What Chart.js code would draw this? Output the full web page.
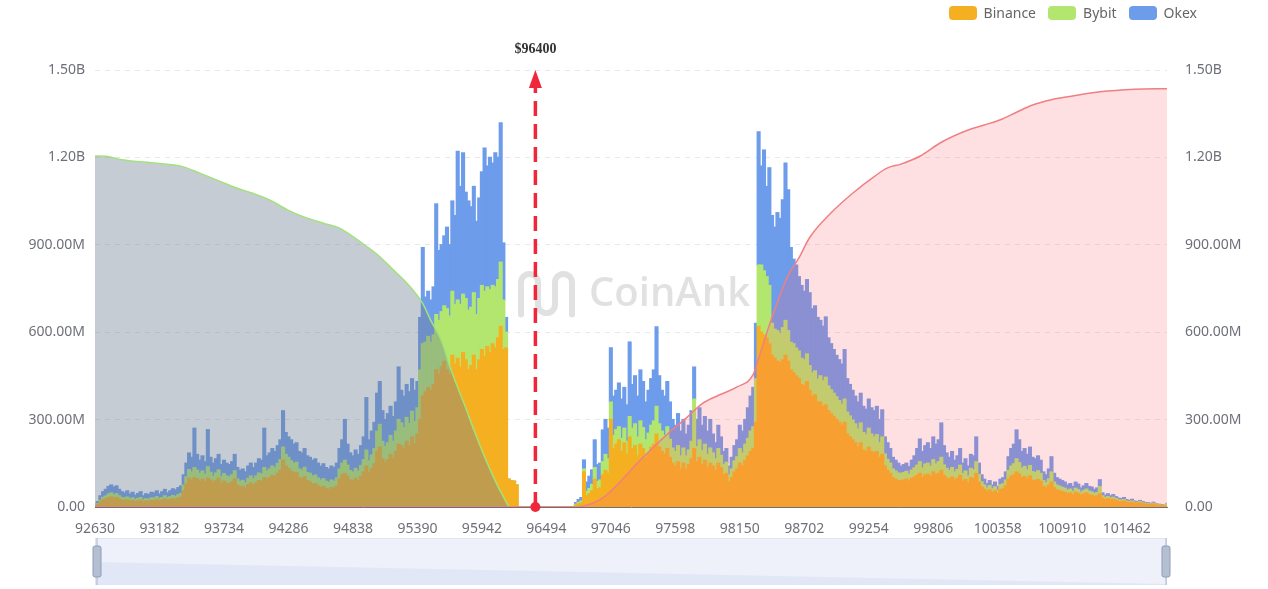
<!DOCTYPE html>
<html lang="en">
<head>
    <meta charset="UTF-8">
    <title>BTC Liquidation Map</title>
    <script src="https://cdn.jsdelivr.net/npm/chart.js"></script>
    <style>
        body {
            margin: 0;
            background: #fff;
        }
        #wrap {
            position: relative;
            width: 1268px;
            height: 589px;
        }
        #legend {
            position: absolute;
            top: 3px;
            right: 71px;
            line-height: 20px;
            font: 14px "Noto Sans", sans-serif;
            color: #666;
        }
        #legend .item {
            display: inline-flex;
            align-items: center;
            margin-left: 12px;
        }
        #legend .item i {
            display: inline-block;
            width: 28px;
            height: 14px;
            border-radius: 4px;
            margin-right: 7px;
        }
    </style>
</head>
<body>
<div id="wrap">
    <canvas id="liqChart"></canvas>
    <div id="legend"></div>
</div>

<script>
    // price grid: 92630 -> 101807, step 23 (400 price levels)
    const priceStart = 92630;
    const priceStep = 23;
    const priceCount = 400;
    const currentPrice = 96400;
    const tickEvery = 24; // one label every 552

    const exchanges = ['Binance', 'Bybit', 'Okex'];
    const colors = ['#f5b022', '#b3e66e', '#6d9ceb'];

    // liquidation intensity per price level, in millions
    const binance = [
        2, 8, 17, 24, 27, 32, 34, 30, 32, 27,
        23, 22, 24, 20, 22, 18, 21, 23, 17, 20,
        19, 22, 21, 25, 20, 23, 27, 22, 25, 28,
        26, 30, 33, 55, 78, 98, 92, 100, 96, 88,
        95, 86, 98, 92, 82, 90, 98, 80, 88, 82,
        80, 85, 96, 74, 68, 70, 64, 76, 82, 74,
        82, 90, 88, 100, 95, 100, 108, 104, 115, 125,
        160, 140, 132, 122, 115, 118, 100, 96, 104, 90,
        85, 78, 80, 72, 66, 70, 63, 60, 66, 63,
        72, 95, 110, 115, 105, 92, 88, 98, 90, 105,
        120, 140, 118, 132, 148, 190, 205, 165, 152, 162,
        180, 165, 190, 215, 210, 200, 225, 210, 240, 215,
        250, 300, 380, 395, 410, 400, 420, 470, 455, 480,
        500, 470, 455, 520, 490, 510, 480, 530, 505, 470,
        485, 520, 470, 505, 540, 515, 550, 530, 560, 545,
        580, 620, 540, 545, 95, 90, 88, 75,
        0, 0, 0, 0, 0, 0, 0, 0, 0, 0, 0, 0, 0, 0, 0, 0, 0, 0, 0, 0, 0,
        6, 10, 14, 120, 38, 45, 55, 95, 62, 65, 110,
        125, 115, 300, 200, 215, 230, 190, 220, 180, 240,
        200, 210, 175, 215, 200, 170, 185, 205, 215, 250,
        205, 190, 180, 200, 170, 150, 140, 155, 130, 150,
        130, 145, 165, 200, 155, 170, 145, 160, 135, 150,
        140, 125, 150, 135, 110, 115, 85, 100, 120, 130,
        150, 140, 160, 175, 190, 200, 290, 620, 600, 590,
        580, 560, 520, 510, 500, 495, 505, 520, 500, 470,
        460, 450, 440, 420, 415, 430, 400, 380, 385, 360,
        360, 345, 350, 330, 320, 310, 300, 290, 280, 290,
        250, 240, 230, 220, 205, 220, 195, 190, 205, 190,
        185, 190, 170, 180, 140, 125, 115, 100, 95, 90,
        90, 92, 95, 88, 98, 102, 108, 115, 100, 110,
        112, 105, 120, 110, 115, 125, 108, 100, 95, 102,
        92, 98, 108, 88, 94, 82, 100, 97, 115, 85,
        68, 60, 52, 58, 50, 55, 46, 60, 62, 72,
        95, 105, 110, 120, 112, 100, 104, 96, 106, 92,
        90, 94, 88, 70, 65, 74, 85, 66, 58, 55,
        52, 50, 45, 48, 42, 50, 46, 40, 44, 48,
        42, 40, 36, 38, 45, 30, 25, 28, 24, 26,
        22, 19, 18, 20, 16, 14, 16, 13, 12, 14,
        11, 9, 9, 8, 10, 6, 6, 5, 4, 3
    ];
    const bybit = [
        1, 3, 6, 9, 10, 12, 14, 12, 13, 11,
        9, 8, 10, 8, 9, 7, 8, 9, 7, 8,
        7, 9, 9, 10, 8, 9, 11, 9, 10, 11,
        10, 12, 13, 20, 25, 30, 28, 35, 30, 27,
        28, 25, 40, 27, 24, 26, 29, 23, 26, 24,
        23, 25, 28, 22, 20, 21, 19, 22, 24, 22,
        24, 26, 25, 35, 28, 30, 32, 30, 34, 37,
        45, 40, 38, 36, 34, 35, 30, 30, 32, 28,
        30, 28, 29, 27, 26, 27, 25, 24, 26, 25,
        27, 35, 40, 45, 38, 33, 31, 34, 32, 37,
        42, 55, 40, 46, 52, 70, 78, 60, 55, 58,
        65, 60, 70, 85, 78, 72, 82, 76, 88, 78,
        90, 170, 180, 170, 175, 165, 170, 190, 185, 190,
        190, 210, 200, 220, 205, 200, 215, 200, 210, 205,
        200, 215, 190, 210, 220, 225, 205, 215, 200, 210,
        200, 220, 170, 55, 0, 0, 0, 0,
        0, 0, 0, 0, 0, 0, 0, 0, 0, 0, 0, 0, 0, 0, 0, 0, 0, 0, 0, 0, 0,
        3, 5, 6, 10, 15, 18, 22, 40, 25, 27, 45,
        55, 50, 60, 45, 50, 45, 45, 50, 45, 70,
        70, 75, 65, 80, 72, 60, 68, 75, 80, 95,
        80, 70, 65, 75, 62, 52, 50, 55, 45, 52,
        45, 50, 60, 170, 52, 60, 48, 55, 45, 52,
        45, 40, 50, 42, 35, 38, 25, 30, 38, 42,
        50, 45, 55, 60, 70, 75, 150, 210, 230, 220,
        210, 200, 110, 100, 105, 100, 110, 120, 105, 95,
        100, 95, 95, 90, 90, 95, 85, 80, 82, 78,
        90, 88, 95, 85, 82, 80, 78, 75, 72, 80,
        75, 72, 68, 65, 62, 68, 60, 58, 65, 60,
        55, 58, 50, 60, 42, 38, 35, 30, 28, 26,
        25, 26, 27, 24, 28, 32, 35, 40, 33, 37,
        38, 35, 42, 37, 40, 45, 36, 32, 30, 33,
        28, 30, 35, 26, 29, 24, 32, 30, 40, 26,
        18, 15, 13, 15, 12, 14, 11, 16, 17, 20,
        30, 35, 38, 45, 40, 33, 35, 31, 36, 29,
        28, 30, 27, 20, 18, 22, 35, 19, 17, 16,
        15, 14, 12, 13, 11, 14, 13, 10, 12, 13,
        12, 11, 10, 11, 25, 8, 7, 7, 6, 7,
        6, 5, 5, 5, 4, 4, 4, 3, 3, 4,
        3, 3, 2, 2, 3, 2, 1, 1, 1, 8
    ];
    const okex = [
        1, 7, 15, 19, 23, 26, 27, 26, 27, 22,
        20, 18, 21, 16, 19, 15, 17, 20, 14, 17,
        16, 19, 18, 20, 16, 20, 22, 17, 20, 23,
        22, 24, 26, 35, 47, 57, 50, 135, 54, 45,
        52, 44, 127, 51, 44, 49, 53, 42, 46, 44,
        42, 45, 56, 39, 37, 39, 37, 42, 44, 39,
        44, 49, 47, 135, 52, 55, 60, 56, 61, 68,
        125, 75, 70, 72, 66, 67, 60, 59, 64, 57,
        55, 54, 56, 51, 48, 51, 47, 46, 48, 47,
        51, 70, 80, 140, 72, 60, 56, 63, 58, 68,
        78, 180, 72, 82, 90, 130, 147, 105, 93, 100,
        100, 85, 100, 180, 112, 108, 113, 109, 112, 107,
        90, 180, 330, 155, 155, 145, 165, 380, 240, 230,
        240, 280, 245, 310, 305, 510, 405, 485, 365, 375,
        345, 365, 320, 345, 390, 492, 415, 455, 420, 460,
        420, 478, 196, 50, 0, 0, 0, 0,
        0, 0, 0, 0, 0, 0, 0, 0, 0, 0, 0, 0, 0, 0, 0, 0, 0, 0, 0, 0, 0,
        6, 10, 12, 31, 32, 42, 50, 95, 58, 58, 109,
        120, 105, 186, 135, 135, 150, 135, 140, 125, 256,
        150, 165, 140, 175, 158, 130, 147, 160, 175, 273,
        165, 140, 135, 155, 128, 98, 90, 110, 85, 98,
        75, 85, 105, 110, 93, 110, 87, 95, 80, 98,
        65, 55, 80, 63, 45, 47, 30, 40, 52, 58,
        80, 75, 85, 105, 120, 135, 190, 457, 340, 415,
        310, 404, 370, 350, 405, 395, 439, 540, 483, 325,
        290, 285, 255, 250, 235, 255, 250, 220, 223, 212,
        190, 187, 207, 165, 158, 150, 142, 140, 138, 170,
        115, 108, 102, 95, 93, 102, 90, 87, 100, 90,
        90, 97, 80, 93, 58, 57, 50, 40, 37, 34,
        25, 27, 28, 26, 34, 41, 57, 78, 57, 63,
        70, 60, 78, 68, 75, 118, 66, 53, 45, 55,
        40, 47, 57, 36, 42, 34, 48, 48, 85, 39,
        24, 20, 15, 17, 13, 16, 13, 19, 21, 28,
        47, 60, 67, 99, 78, 57, 61, 53, 63, 49,
        47, 51, 45, 30, 27, 34, 52, 30, 25, 24,
        23, 21, 18, 19, 17, 21, 19, 15, 16, 19,
        16, 17, 14, 16, 23, 10, 8, 10, 8, 9,
        7, 6, 5, 7, 5, 4, 6, 4, 3, 4,
        4, 3, 3, 2, 3, 2, 2, 2, 1, 1
    ];

    // cumulative long liquidations (below current price), millions
    const longCumPrices = [92630, 92722, 92860, 93159, 93366, 93527, 93711, 93849, 93987, 94125,
        94286, 94424, 94585, 94723, 94838, 94953, 95068, 95183, 95298, 95436,
        95505, 95597, 95666, 95735, 95804, 95873, 95942, 96011, 96080, 96126, 96172];
    const longCumValues = [1205, 1204, 1192, 1180, 1170, 1146, 1116, 1094, 1076, 1054,
        1018, 995, 974, 957, 928, 895, 859, 814, 769, 698,
        640, 570, 485, 410, 340, 265, 195, 130, 70, 35, 0];

    // cumulative short liquidations (above current price), millions
    const shortCumPrices = [92630, 96747, 96793, 96885, 96977, 97115, 97276, 97414, 97552, 97690,
        97828, 97989, 98127, 98265, 98311, 98403, 98564, 98656, 98748, 98932,
        99116, 99300, 99415, 99530, 99691, 99875, 100105, 100243, 100381, 100519,
        100657, 100818, 100956, 101232, 101531, 101807];
    const shortCumValues = [0, 0, 2, 12, 31, 82, 152, 207, 258, 305,
        355, 387, 412, 455, 510, 625, 795, 855, 925, 1010,
        1077, 1134, 1164, 1177, 1204, 1252, 1294, 1311, 1329, 1355,
        1380, 1398, 1408, 1425, 1434, 1436];

    const prices = [];
    for (let i = 0; i < priceCount; i++) prices.push(priceStart + i * priceStep);

    // y tick labels: 0.00, 300.00M ... 1.50B
    function fmtAmount(v) {
        if (v === 0) return '0.00';
        if (v >= 1000) return (v / 1000).toFixed(2) + 'B';
        return v.toFixed(2) + 'M';
    }

    // html legend
    const legendEl = document.getElementById('legend');
    exchanges.forEach((name, i) => {
        const item = document.createElement('span');
        item.className = 'item';
        item.innerHTML = '<i style="background:' + colors[i] + '"></i>' + name;
        legendEl.appendChild(item);
    });

    // CoinAnk watermark behind the bars
    const watermark = {
        id: 'watermark',
        beforeDatasetsDraw(chart) {
            const { ctx, chartArea: a } = chart;
            const cx = (a.left + a.right) / 2;
            const cy = (a.top + a.bottom) / 2 + 4;
            ctx.save();
            ctx.strokeStyle = 'rgba(205,205,205,0.6)';
            ctx.fillStyle = 'rgba(205,205,205,0.6)';
            ctx.lineWidth = 6;
            ctx.lineCap = 'round';
            const x0 = cx - 110;
            ctx.beginPath();
            ctx.moveTo(x0, cy + 22);
            ctx.lineTo(x0, cy - 10);
            ctx.arc(x0 + 8.5, cy - 10, 8.5, Math.PI, 2 * Math.PI);
            ctx.lineTo(x0 + 17, cy + 12);
            ctx.arc(x0 + 25.5, cy + 12, 8.5, Math.PI, 0, true);
            ctx.lineTo(x0 + 34, cy - 10);
            ctx.arc(x0 + 42.5, cy - 10, 8.5, Math.PI, 2 * Math.PI);
            ctx.lineTo(x0 + 51, cy + 22);
            ctx.stroke();
            ctx.font = '600 40px "Open Sans", sans-serif';
            ctx.textBaseline = 'middle';
            ctx.fillText('CoinAnk', cx - 42, cy + 2);
            ctx.restore();
        }
    };

    // current price marker
    const priceMarker = {
        id: 'priceMarker',
        afterDatasetsDraw(chart) {
            const { ctx, scales: { x, y } } = chart;
            const px = x.getPixelForValue((currentPrice - priceStart) / priceStep);
            const top = y.getPixelForValue(1500);
            const bottom = y.getPixelForValue(0);
            ctx.save();
            ctx.strokeStyle = '#f0273a';
            ctx.fillStyle = '#f0273a';
            ctx.lineWidth = 3.5;
            ctx.setLineDash([15, 8]);
            ctx.beginPath();
            ctx.moveTo(px, bottom);
            ctx.lineTo(px, top + 14);
            ctx.stroke();
            ctx.setLineDash([]);
            ctx.beginPath();
            ctx.moveTo(px, top);
            ctx.lineTo(px - 6.5, top + 18);
            ctx.lineTo(px + 6.5, top + 18);
            ctx.closePath();
            ctx.fill();
            ctx.beginPath();
            ctx.arc(px, bottom, 5, 0, Math.PI * 2);
            ctx.fill();
            ctx.font = 'bold 14px "Liberation Serif", serif';
            ctx.fillStyle = '#333';
            ctx.textAlign = 'center';
            ctx.textBaseline = 'middle';
            ctx.fillText('$' + currentPrice, px, top - 21);
            ctx.restore();
        }
    };

    // data zoom slider under the axis (decorative)
    const slider = {
        id: 'slider',
        afterDraw(chart) {
            const { ctx, chartArea: a } = chart;
            const top = chart.height - 51;
            const bottom = chart.height - 4;
            ctx.save();
            ctx.fillStyle = '#eef1fa';
            ctx.fillRect(a.left, top, a.right - a.left, bottom - top);
            ctx.fillStyle = '#e2e7f7';
            ctx.beginPath();
            ctx.moveTo(a.left, top + 24);
            ctx.lineTo(a.right, bottom - 1);
            ctx.lineTo(a.right, bottom);
            ctx.lineTo(a.left, bottom);
            ctx.closePath();
            ctx.fill();
            ctx.strokeStyle = '#dfe5f3';
            ctx.lineWidth = 1;
            ctx.strokeRect(a.left + 0.5, top + 0.5, a.right - a.left - 1, bottom - top - 1);
            [a.left + 2, a.right - 1].forEach(hx => {
                ctx.strokeStyle = '#aab6cc';
                ctx.beginPath();
                ctx.moveTo(hx, top);
                ctx.lineTo(hx, bottom);
                ctx.stroke();
                ctx.fillStyle = '#b4bfd2';
                ctx.strokeStyle = '#8e9db8';
                ctx.beginPath();
                ctx.roundRect(hx - 4, top + 8, 8, 31, 2);
                ctx.fill();
                ctx.stroke();
            });
            ctx.restore();
        }
    };

    const barSets = [binance, bybit, okex].map((d, i) => ({
        label: exchanges[i],
        data: d,
        backgroundColor: colors[i],
        borderWidth: 0,
        barPercentage: 1,
        categoryPercentage: 1,
        inflateAmount: 0.7,
        yAxisID: 'y',
        order: 2
    }));

    const ctx = document.getElementById('liqChart').getContext('2d');
    const chart = new Chart(ctx, {
        type: 'bar',
        data: {
            labels: prices,
            datasets: [
                ...barSets,
                {
                    type: 'line',
                    label: 'Long cumulative',
                    data: longCumPrices.map((p, i) => ({ x: p, y: longCumValues[i] })),
                    borderColor: '#a3e27a',
                    borderWidth: 1.5,
                    backgroundColor: 'rgba(112,128,144,0.4)',
                    fill: 'origin',
                    pointRadius: 0,
                    cubicInterpolationMode: 'monotone',
                    yAxisID: 'y1',
                    order: 1
                },
                {
                    type: 'line',
                    label: 'Short cumulative',
                    data: shortCumPrices.map((p, i) => ({ x: p, y: shortCumValues[i] })),
                    borderColor: '#f07f82',
                    borderWidth: 1.5,
                    backgroundColor: 'rgba(255,99,110,0.2)',
                    fill: 'origin',
                    pointRadius: 0,
                    cubicInterpolationMode: 'monotone',
                    yAxisID: 'y1',
                    order: 0
                }
            ]
        },
        options: {
            responsive: true,
            maintainAspectRatio: false,
            animation: false,
            layout: { padding: { top: 70, left: 0, right: 0, bottom: 0 } },
            plugins: {
                legend: { display: false },
                tooltip: { enabled: false }
            },
            scales: {
                x: {
                    stacked: true,
                    offset: false,
                    grid: { display: false },
                    border: { color: '#6e7079' },
                    ticks: {
                        autoSkip: false,
                        maxRotation: 0,
                        padding: 6,
                        color: '#6e7079',
                        font: { family: 'Noto Sans', size: 14 },
                        callback: (v, i) => (i % tickEvery === 0 ? String(prices[i]) : '')
                    },
                    afterFit: s => { s.height = 82; }
                },
                y: {
                    stacked: true,
                    position: 'left',
                    min: 0,
                    max: 1500,
                    grid: { color: '#e6e8ee', drawTicks: false },
                    border: { display: false, dash: [5, 5] },
                    ticks: {
                        stepSize: 300,
                        padding: 10,
                        color: '#6e7079',
                        font: { family: 'Noto Sans', size: 14 },
                        callback: v => fmtAmount(v)
                    },
                    afterFit: s => { s.width = 95; }
                },
                y1: {
                    position: 'right',
                    min: 0,
                    max: 1500,
                    grid: { display: false },
                    border: { display: false },
                    ticks: {
                        stepSize: 300,
                        padding: 10,
                        color: '#6e7079',
                        font: { family: 'Noto Sans', size: 14 },
                        callback: v => fmtAmount(v)
                    },
                    afterFit: s => { s.width = 101; }
                }
            }
        },
        plugins: [watermark, priceMarker, slider]
    });
</script>
</body>
</html>
